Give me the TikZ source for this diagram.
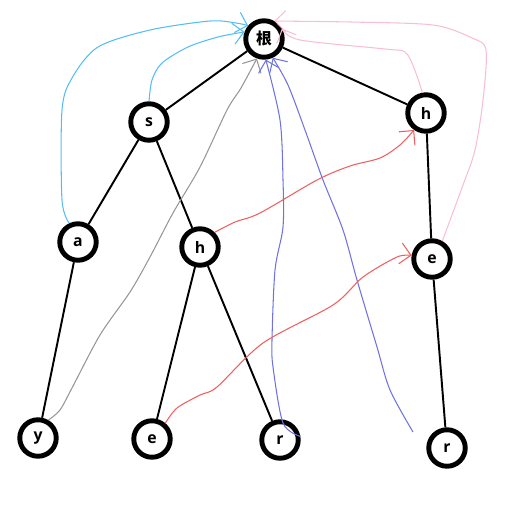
\documentclass[tikz,border=0pt]{standalone}
\usepackage{fontspec}
\setsansfont{Open Sans}
\newfontfamily\cjkfont{Noto Sans CJK SC}
\usetikzlibrary{arrows.meta}

\definecolor{linkcyan}{RGB}{85,190,240}
\definecolor{linkgray}{RGB}{150,150,150}
\definecolor{linkviolet}{RGB}{110,115,225}
\definecolor{linkred}{RGB}{240,95,95}
\definecolor{linkpink}{RGB}{250,190,210}

\tikzset{
  trie/.style={circle, draw, line width=2.8pt, minimum size=0.73cm,
    inner sep=0pt, font=\sffamily\bfseries\small},
  edge/.style={line width=1.1pt},
  fail/.style={line width=0.6pt, -{Straight Barb[length=6pt,width=12pt]}},
}

\begin{document}
\begin{tikzpicture}[x=0.02cm, y=-0.02cm]
  \useasboundingbox (0,0) rectangle (527,527);
  % trie
  \node[trie, font=\cjkfont\bfseries\small] (root) at (264,39) {根};
  \node[trie] (s) at (149,122) {s};
  \node[trie] (h1) at (426,113) {h};
  \node[trie] (a) at (78,242) {a};
  \node[trie] (h2) at (200,247) {h};
  \node[trie] (e2) at (432,259) {e};
  \node[trie] (y) at (38,438) {y};
  \node[trie] (e1) at (152,439) {e};
  \node[trie] (r1) at (280,440) {r};
  \node[trie] (r2) at (447,448) {r};
  \draw[edge] (root) -- (s);
  \draw[edge] (root) -- (h1);
  \draw[edge] (s) -- (a);
  \draw[edge] (s) -- (h2);
  \draw[edge] (h1) -- (e2);
  \draw[edge] (a) -- (y);
  \draw[edge] (h2) -- (e1);
  \draw[edge] (h2) -- (r1);
  \draw[edge] (e2) -- (r2);
  % fail links
  \draw[fail, linkcyan] plot[smooth] coordinates {(a.115) (62,200) (62,110) (72,78) (98,47) (150,30) (210,21) (236,23) (root.140)};
  \draw[fail, linkcyan] plot[smooth] coordinates {(s.north) (152,80) (162,63) (188,47) (218,37) (root.160)};
  \draw[fail, linkgray] plot[smooth] coordinates {(y.60) (60,410) (72,388) (100,335) (130,292) (150,257) (173,213) (200,167) (227,110) (241,88) (root.250)};
  \draw[fail, linkviolet] plot[smooth] coordinates {(r1.10) (283,423) (273,367) (272,340) (275,270) (283,227) (283,180) (280,120) (root.275)};
  \draw[fail, linkviolet] plot[smooth] coordinates {(413,432) (390,390) (377,347) (357,280) (343,230) (323,180) (305,130) (288,85) (root.295)};
  \draw[fail, linkred] plot[smooth] coordinates {(h2.45) (235,222) (260,213) (317,180) (350,166) (380,158) (400,145) (h1.235)};
  \draw[fail, linkred] plot[smooth] coordinates {(e1.50) (177,408) (200,395) (217,387) (263,343) (333,305) (363,277) (397,257) (e2.170)};
  \draw[fail, linkpink] plot[smooth] coordinates {(h1.100) (414,68) (405,52) (385,49) (300,40) (root.30)};
  \draw[fail, linkpink] plot[smooth] coordinates {(e2.60) (463,185) (475,150) (483,100) (486,50) (472,38) (433,25) (350,22) (root.60)};
\end{tikzpicture}
\end{document}
